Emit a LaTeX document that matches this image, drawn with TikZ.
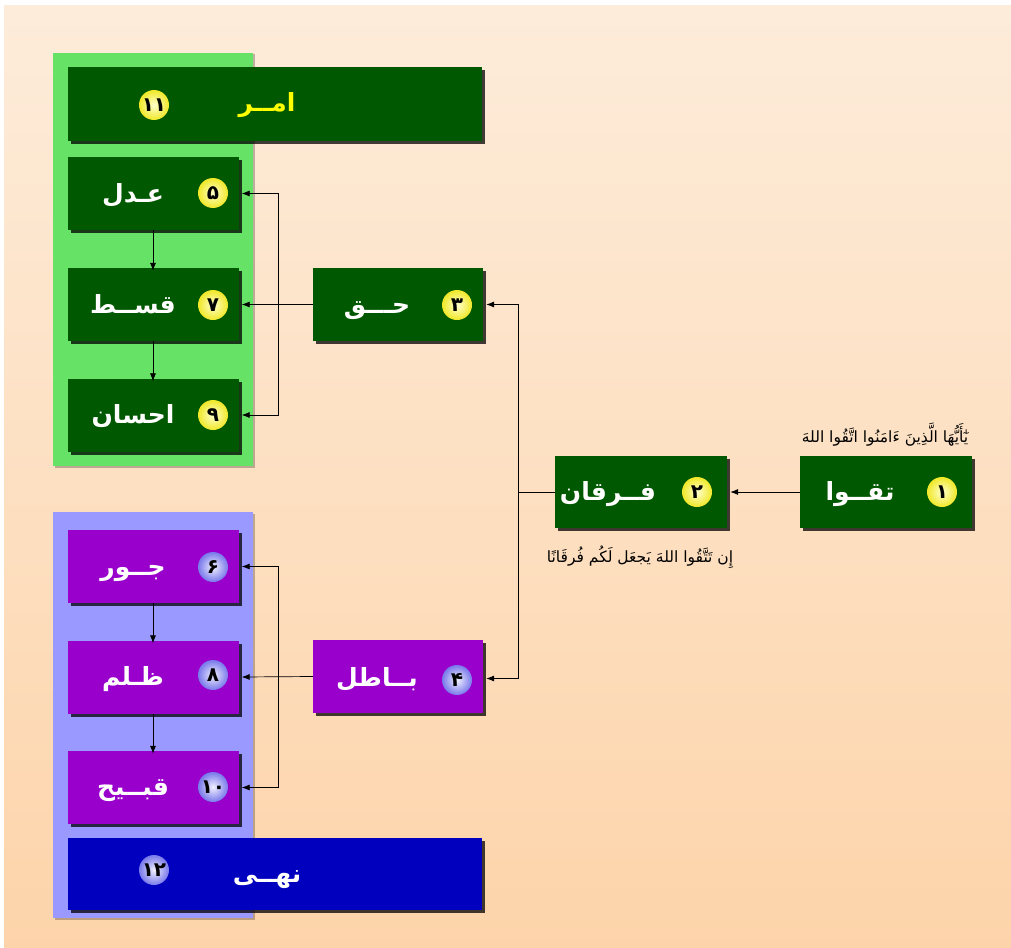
\documentclass[tikz,border=0pt]{standalone}
\usepackage{fontspec}
\usetikzlibrary{shadows,arrows.meta,calc}
\TeXXeTstate=1
\newfontfamily\arabicfont[Script=Arabic]{DejaVu Sans}

\definecolor{bgtop}{RGB}{253,236,218}
\definecolor{bgbottom}{RGB}{253,212,170}
\definecolor{boxgreen}{RGB}{0,88,0}
\definecolor{panelgreen}{RGB}{102,226,102}
\definecolor{boxpurple}{RGB}{153,0,204}
\definecolor{panelblue}{RGB}{153,153,255}
\definecolor{nahyblue}{RGB}{0,0,190}
\definecolor{amryellow}{RGB}{255,255,0}
\definecolor{ballyin}{RGB}{255,255,205}
\definecolor{ballyout}{RGB}{240,232,40}
\definecolor{ballbin}{RGB}{240,240,255}
\definecolor{ballbout}{RGB}{120,120,235}

\tikzset{
  basebox/.style={rectangle, inner sep=0pt, minimum width=171pt, minimum height=73pt,
    drop shadow={shadow xshift=3pt, shadow yshift=-3pt, opacity=0.75, fill=black}},
  gbox/.style={basebox, fill=boxgreen},
  pbox/.style={basebox, fill=boxpurple},
  panel/.style={rectangle, inner sep=0pt,
    drop shadow={shadow xshift=1.5pt, shadow yshift=-1.5pt, opacity=0.25, fill=black}},
  word/.style={inner sep=0pt, text=white, anchor=base,
    font=\arabicfont\bfseries\fontsize{25}{29}\selectfont},
  verse/.style={inner sep=0pt, text=black, anchor=base,
    font=\arabicfont\fontsize{15.5}{18}\selectfont},
  ball/.style={circle, minimum size=30pt, inner sep=0pt,
    font=\arabicfont\bfseries\fontsize{20}{22}\selectfont},
  yball/.style={ball, inner color=ballyin, outer color=ballyout},
  bball/.style={ball, inner color=ballbin, outer color=ballbout},
  arr/.style={draw=black, line width=0.7pt, -{Latex[length=8pt,width=6pt]}},
  link/.style={draw=black, line width=0.7pt},
}

\begin{document}
\begin{tikzpicture}[x=1pt,y=-1pt]
  \useasboundingbox (0,0) rectangle (1011,947);
  \fill[white] (0,0) rectangle (1011,947);
  % page background
  \shade[top color=bgtop, bottom color=bgbottom] (4,6) rectangle (1011,947);

  % group panels
  \node[panel, fill=panelgreen, minimum width=200pt, minimum height=413pt] (gpanel) at (153,259.5) {};
  \node[panel, fill=panelblue, minimum width=200pt, minimum height=406pt] (bpanel) at (153,715) {};

  % wide bars
  \node[gbox, minimum width=414pt, minimum height=74pt] (amr) at (275,104) {};
  \node[basebox, fill=nahyblue, minimum width=414pt, minimum height=72pt] (nahy) at (275,874) {};

  % green column
  \node[gbox] (adl) at (153,193.5) {};
  \node[gbox] (qist) at (153,304.5) {};
  \node[gbox] (ihsan) at (153,415) {};
  \node[gbox, minimum width=170pt] (haq) at (398,304.5) {};

  % purple column
  \node[pbox] (jour) at (153,566.5) {};
  \node[pbox] (zulm) at (153,677) {};
  \node[pbox] (qabih) at (153,787.5) {};
  \node[pbox, minimum width=170pt] (batil) at (398,676.5) {};

  % right-hand boxes
  \node[gbox, minimum width=172pt, minimum height=72pt] (furqan) at (641,492) {};
  \node[gbox, minimum width=172pt, minimum height=72pt] (taqwa) at (886,492) {};

  % words (placed by baseline)
  \node[word, text=amryellow] (amrT) at (267,112) {\beginR امــر\endR};
  \node[word] (nahyT) at (267,882) {\beginR نهــی\endR};
  \node[word] (adlT) at (133,202) {\beginR عـدل\endR};
  \node[word] (qistT) at (133,313) {\beginR قســط\endR};
  \node[word] (ihsanT) at (133,423) {\beginR احسان\endR};
  \node[word] (haqT) at (377,313) {\beginR حـــق\endR};
  \node[word] (jourT) at (133,575) {\beginR جــور\endR};
  \node[word] (zulmT) at (133,685) {\beginR ظـلم\endR};
  \node[word] (qabihT) at (133,795) {\beginR قبــیح\endR};
  \node[word] (batilT) at (377,686) {\beginR بــاطل\endR};
  \node[word] (furqanT) at (608,500) {\beginR فــرقان\endR};
  \node[word] (taqwaT) at (860,500) {\beginR تقــوا\endR};

  % numbered discs
  \node[yball] (n11) at (154,105) {۱۱};
  \node[yball] (n5) at (213,193) {۵};
  \node[yball] (n7) at (213,305) {۷};
  \node[yball] (n9) at (213,415) {۹};
  \node[yball] (n3) at (457,305) {۳};
  \node[bball] (n6) at (213,567) {۶};
  \node[bball] (n8) at (213,675) {۸};
  \node[bball] (n10) at (213,787) {۱۰};
  \node[bball] (n4) at (457,680) {۴};
  \node[bball] (n12) at (154,870) {۱۲};
  \node[yball] (n2) at (697,492) {۲};
  \node[yball] (n1) at (942,492) {۱};

  % verses
  \node[verse] (verse1) at (885,442) {\beginR يٰٓأَيُّهَا الَّذِينَ ءَامَنُوا اتَّقُوا اللهَ\endR};
  \node[verse] (verse2) at (640,562) {\beginR إِن تَتَّقُوا اللهَ يَجعَل لَكُم فُرقَانًا\endR};

  % chains inside the columns
  \draw[arr] (adl.south) -- ([yshift=-3pt]qist.north);
  \draw[arr] (qist.south) -- ([yshift=-3pt]ihsan.north);
  \draw[arr] (jour.south) -- ([yshift=-3pt]zulm.north);
  \draw[arr] (zulm.south) -- ([yshift=-3pt]qabih.north);

  % haq branches
  \coordinate (hj) at (278,304.5);
  \draw[arr] (haq.west) -- ([xshift=3pt]qist.east);
  \draw[arr] (hj) |- ([xshift=3pt]adl.east);
  \draw[arr] (hj) |- ([xshift=3pt]ihsan.east);

  % batil branches
  \coordinate (bj) at (278,677);
  \draw[arr] (batil.west) -- ([xshift=3pt]zulm.east);
  \draw[arr] (bj) |- ([xshift=3pt]jour.east);
  \draw[arr] (bj) |- ([xshift=3pt]qabih.east);

  % furqan split
  \coordinate (fj) at (518,492);
  \draw[link] (furqan.west) -- (fj);
  \draw[arr] (fj) |- ([xshift=3pt]haq.east);
  \draw[arr] (fj) |- ([xshift=3pt,yshift=-2pt]batil.east);

  % taqwa to furqan
  \draw[arr] (taqwa.west) -- ([xshift=3pt]furqan.east);
\end{tikzpicture}
\end{document}
